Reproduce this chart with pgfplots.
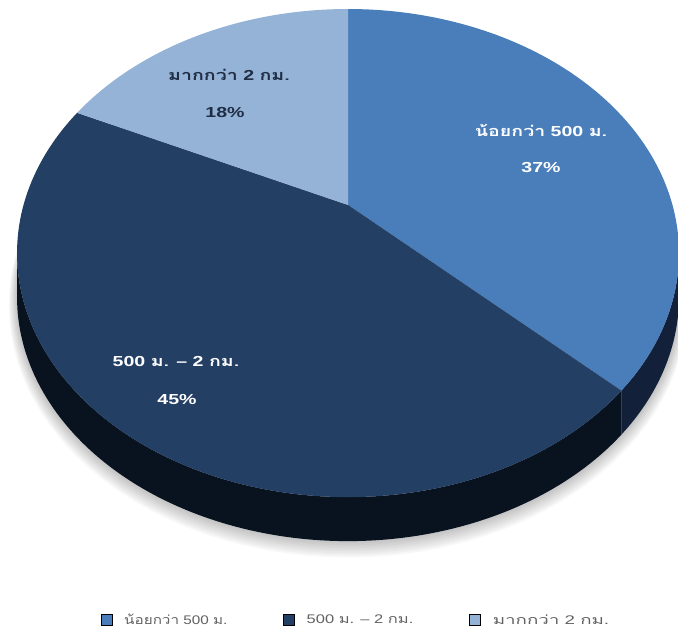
\documentclass[border=0pt]{standalone}
\usepackage{graphicx}
\usepackage{pgfplots}
\pgfplotsset{compat=1.18}
\usepackage{pgfplotstable}
\usepgfplotslibrary{fillbetween}
\usepackage{fontspec}
\setmainfont{Liberation Sans}
\newfontfamily\thai[Script=Thai]{Loma}
\definecolor{sA}{HTML}{4A7EBB}
\definecolor{sB}{HTML}{243F64}
\definecolor{sC}{HTML}{95B3D7}
\definecolor{sAside}{HTML}{1A3050}
\definecolor{sBside}{HTML}{101B2F}
\definecolor{lblC}{HTML}{1F2D45}
\definecolor{legtxt}{HTML}{626262}

\pgfplotstableread{
group value
A 37
B 45
C 18
}\piedata

\begin{document}
\begin{tikzpicture}
\pgfplotstablegetelem{0}{value}\of\piedata \let\vA\pgfplotsretval
\pgfplotstablegetelem{1}{value}\of\piedata \let\vB\pgfplotsretval
\pgfplotstablegetelem{2}{value}\of\piedata \let\vC\pgfplotsretval
\pgfmathsetmacro\tAB{90-3.6*\vA}
\pgfmathsetmacro\tBC{\tAB-3.6*\vB}
\pgfmathsetmacro\tCA{\tBC-3.6*\vC}
\def\PX{348}\def\PY{437}\def\PA{324.5}\def\PB{234.6}\def\PE{0.197}\def\PH{44}
\pgfmathsetmacro\tL{-180+asin(\PE)}
\pgfmathsetmacro\tR{-asin(\PE)}
\begin{axis}[
  width=678pt, height=642pt, scale only axis,
  xmin=0, xmax=678, ymin=0, ymax=642,
  hide axis, clip=false,
  legend style={at={(axis cs:355,22)}, anchor=center, draw=none, fill=none,
    legend columns=3, text=legtxt, font=\fontsize{12.5}{14}\selectfont,
    /tikz/every even column/.append style={column sep=56pt},
    /tikz/every odd column/.append style={column sep=0pt},
    nodes={inner xsep=0pt, inner ysep=2pt}},
  legend image code/.code={\fill[#1] (0pt,-5.5pt) rectangle (11pt,5.5pt); \path (23pt,0pt);},
  legend cell align=left,
]
% soft shadow
\pgfplotsinvokeforeach{1,...,8}{
\addplot[forget plot, fill=black, fill opacity=0.03, draw=none, domain=-180:180, samples=120, variable=\t]
  ({\PX+(\PA+#1)*cos(\t)/(1+\PE*sin(\t))}, {\PY-\PH-0.8*#1+(\PB+#1)*sin(\t)/(1+\PE*sin(\t))}) -- cycle;
}
% sides
\addplot[forget plot, draw=none, name path=atop, domain=\tAB:\tR, samples=40, variable=\t]
  ({\PX+\PA*cos(\t)/(1+\PE*sin(\t))}, {\PY+\PB*sin(\t)/(1+\PE*sin(\t))});
\addplot[forget plot, draw=none, name path=abot, domain=\tAB:\tR, samples=40, variable=\t]
  ({\PX+\PA*cos(\t)/(1+\PE*sin(\t))}, {\PY-\PH+\PB*sin(\t)/(1+\PE*sin(\t))});
\addplot[forget plot, fill=sAside] fill between[of=atop and abot];
\addplot[forget plot, draw=none, name path=btop, domain=\tL:\tAB, samples=100, variable=\t]
  ({\PX+\PA*cos(\t)/(1+\PE*sin(\t))}, {\PY+\PB*sin(\t)/(1+\PE*sin(\t))});
\addplot[forget plot, draw=none, name path=bbot, domain=\tL:\tAB, samples=100, variable=\t]
  ({\PX+\PA*cos(\t)/(1+\PE*sin(\t))}, {\PY-\PH+\PB*sin(\t)/(1+\PE*sin(\t))});
\addplot[forget plot, fill=sBside] fill between[of=btop and bbot];
% top faces
\addplot[forget plot, fill=sA, draw=none, domain=\tAB:90, samples=100, variable=\t]
  ({\PX+\PA*cos(\t)/(1+\PE*sin(\t))}, {\PY+\PB*sin(\t)/(1+\PE*sin(\t))}) -- (axis cs:\PX,\PY) -- cycle;
\addplot[forget plot, fill=sB, draw=none, domain=\tBC:\tAB, samples=120, variable=\t]
  ({\PX+\PA*cos(\t)/(1+\PE*sin(\t))}, {\PY+\PB*sin(\t)/(1+\PE*sin(\t))}) -- (axis cs:\PX,\PY) -- cycle;
\addplot[forget plot, fill=sC, draw=none, domain=\tCA:\tBC, samples=60, variable=\t]
  ({\PX+\PA*cos(\t)/(1+\PE*sin(\t))}, {\PY+\PB*sin(\t)/(1+\PE*sin(\t))}) -- (axis cs:\PX,\PY) -- cycle;
% labels
\tikzset{plabel/.style={font=\bfseries\fontsize{14.5}{16}\selectfont, xscale=1.35}}
\node[plabel, text=white] at (axis cs:541,511) {{\thai น้อยกว่า} 500 {\thai ม.}};
\node[plabel, text=white] at (axis cs:541,474) {37\%};
\node[plabel, text=white] at (axis cs:176,280) {500 {\thai ม.} – 2 {\thai กม.}};
\node[plabel, text=white] at (axis cs:177,242) {45\%};
\node[plabel, text=lblC] at (axis cs:229,567) {{\thai มากกว่า} 2 {\thai กม.}};
\node[plabel, text=lblC] at (axis cs:225,529) {18\%};
% legend
\addlegendimage{fill=sA}
\addlegendentry{\scalebox{1.22}[1]{{\thai น้อยกว่า} 500 {\thai ม.}}}
\addlegendimage{fill=sB}
\addlegendentry{\scalebox{1.32}[1]{500 {\thai ม.} – 2 {\thai กม.}}}
\addlegendimage{fill=sC}
\addlegendentry{\scalebox{1.5}[1]{{\thai มากกว่า} 2 {\thai กม.}}}
\end{axis}
\pgfresetboundingbox
\path (current axis.south west) rectangle (current axis.north east);
\end{tikzpicture}
\end{document}
